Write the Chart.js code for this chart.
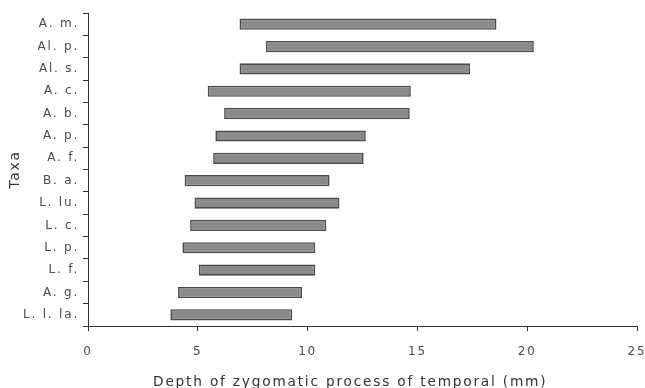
<!DOCTYPE html>
<html>
<head>
<meta charset="utf-8">
<script src="https://cdn.jsdelivr.net/npm/chart.js@4"></script>
<style>
html,body{margin:0;padding:0;background:#fff;}
#wrap{width:645px;height:388px;position:relative;}
</style>
</head>
<body>
<div id="wrap"><canvas id="c" width="645" height="388"></canvas></div>
<script>
const taxa = ["A. m.", "Al. p.", "Al. s.", "A. c.", "A. b.", "A. p.", "A. f.", "B. a.", "L. lu.", "L. c.", "L. p.", "L. f.", "A. g.", "L. l. la."];
const minDepth = [6.9, 8.1, 6.9, 5.45, 6.2, 5.8, 5.7, 4.4, 4.85, 4.65, 4.3, 5.05, 4.1, 3.75];
const maxDepth = [18.6, 20.3, 17.4, 14.7, 14.65, 12.65, 12.55, 11.0, 11.45, 10.85, 10.35, 10.35, 9.75, 9.3];
const xTicks = [0, 5, 10, 15, 20, 25];

const ranges = taxa.map((t, i) => [minDepth[i], maxDepth[i]]);
const txt = '#4a4a4a';
const font = {family: 'DejaVu Sans', size: 12};
const titleFont = {family: 'DejaVu Sans', size: 13.7};

const spacing = {
  id: 'spacing',
  beforeDraw(chart) { chart.ctx.letterSpacing = '1.8px'; }
};

new Chart(document.getElementById('c'), {
  type: 'bar',
  data: {
    labels: taxa,
    datasets: [{
      data: ranges,
      backgroundColor: '#8a8a8a',
      borderColor: '#4a4a4a',
      borderWidth: 1.6,
      borderSkipped: false,
      barPercentage: 0.5,
      categoryPercentage: 1
    }]
  },
  options: {
    indexAxis: 'y',
    responsive: false,
    animation: false,
    devicePixelRatio: 1,
    layout: {padding: {top: 13, right: 8, left: 0, bottom: 0}},
    plugins: {legend: {display: false}, tooltip: {enabled: false}},
    scales: {
      x: {
        type: 'linear',
        min: 0, max: 25,
        afterBuildTicks(scale) { scale.ticks = xTicks.map(v => ({value: v})); },
        afterFit(scale) { scale.height = 62; scale.paddingLeft = 0; scale.paddingRight = 0; },
        grid: {drawOnChartArea: false, drawTicks: true, tickLength: 5, color: '#333', lineWidth: 1},
        border: {display: true, color: '#333', width: 1},
        ticks: {color: txt, font: font, padding: 14},
        title: {display: true, text: 'Depth of zygomatic process of temporal (mm)    ', color: '#333', font: titleFont, padding: {top: 0, bottom: -3}}
      },
      y: {
        afterFit(scale) { scale.width = 88; },
        grid: {drawOnChartArea: false, drawTicks: true, tickLength: 5, color: '#333', offset: true},
        border: {display: true, color: '#333', width: 1},
        ticks: {color: txt, font: font, padding: 4},
        title: {display: true, text: 'Taxa', color: '#333', font: titleFont, padding: {top: 7, bottom: 0}}
      }
    }
  },
  plugins: [spacing]
});
</script>
</body>
</html>
